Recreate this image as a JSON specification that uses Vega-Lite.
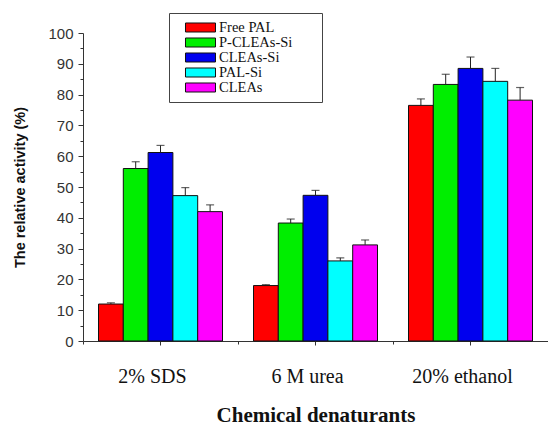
{
  "$schema": "https://vega.github.io/schema/vega-lite/v6.json",
  "width": 465,
  "height": 308,
  "autosize": {"type": "none"},
  "padding": {"left": 83, "top": 33, "right": 0, "bottom": 85},
  "background": "white",
  "config": {
    "view": {"stroke": null},
    "axis": {"grid": false, "domainColor": "#333", "tickColor": "#333", "domainWidth": 1, "tickWidth": 1}
  },
  "data": {
    "values": [
      {"cat": "2% SDS", "series": "Free PAL", "v": 12, "hi": 12.4},
      {"cat": "2% SDS", "series": "P-CLEAs-Si", "v": 56, "hi": 58.2},
      {"cat": "2% SDS", "series": "CLEAs-Si", "v": 61.2, "hi": 63.5},
      {"cat": "2% SDS", "series": "PAL-Si", "v": 47.2, "hi": 49.8},
      {"cat": "2% SDS", "series": "CLEAs", "v": 42, "hi": 44.2},
      {"cat": "6 M urea", "series": "Free PAL", "v": 18, "hi": 18.3},
      {"cat": "6 M urea", "series": "P-CLEAs-Si", "v": 38.3, "hi": 39.6},
      {"cat": "6 M urea", "series": "CLEAs-Si", "v": 47.3, "hi": 48.9},
      {"cat": "6 M urea", "series": "PAL-Si", "v": 26, "hi": 27},
      {"cat": "6 M urea", "series": "CLEAs", "v": 31.2, "hi": 32.8},
      {"cat": "20% ethanol", "series": "Free PAL", "v": 76.5, "hi": 78.6},
      {"cat": "20% ethanol", "series": "P-CLEAs-Si", "v": 83.3, "hi": 86.6},
      {"cat": "20% ethanol", "series": "CLEAs-Si", "v": 88.5, "hi": 92.2},
      {"cat": "20% ethanol", "series": "PAL-Si", "v": 84.3, "hi": 88.5},
      {"cat": "20% ethanol", "series": "CLEAs", "v": 78.2, "hi": 82.3}
    ]
  },
  "layer": [
    {
      "mark": {"type": "bar", "stroke": "#111", "strokeWidth": 1},
      "encoding": {
        "x": {
          "field": "cat", "type": "nominal",
          "sort": ["2% SDS", "6 M urea", "20% ethanol"],
          "scale": {"paddingInner": 0.2, "paddingOuter": 0.1},
          "axis": {
            "orient": "bottom", "title": "Chemical denaturants", "labelAngle": 0,
            "tickSize": 4, "labelPadding": 21, "labelOffset": -8,
            "labelFont": "Liberation Serif", "labelFontSize": 20, "labelColor": "#111",
            "titleFont": "Liberation Serif", "titleFontSize": 21, "titleFontWeight": "bold", "titleColor": "#111",
            "titlePadding": 18
          }
        },
        "xOffset": {
          "field": "series", "type": "nominal",
          "sort": ["Free PAL", "P-CLEAs-Si", "CLEAs-Si", "PAL-Si", "CLEAs"],
          "scale": {"paddingInner": 0, "paddingOuter": 0}
        },
        "y": {
          "field": "v", "type": "quantitative",
          "scale": {"domain": [0, 100], "nice": false},
          "axis": {
            "orient": "left", "title": "The relative activity (%)",
            "values": [0, 10, 20, 30, 40, 50, 60, 70, 80, 90, 100],
            "tickSize": 5, "labelPadding": 5,
            "labelFont": "Liberation Sans", "labelFontSize": 15, "labelColor": "#333",
            "titleFont": "Liberation Sans", "titleFontSize": 14.5, "titleFontWeight": "bold", "titleColor": "#111",
            "titlePadding": 20
          }
        },
        "color": {
          "field": "series", "type": "nominal",
          "sort": ["Free PAL", "P-CLEAs-Si", "CLEAs-Si", "PAL-Si", "CLEAs"],
          "scale": {
            "domain": ["Free PAL", "P-CLEAs-Si", "CLEAs-Si", "PAL-Si", "CLEAs"],
            "range": ["#ff0000", "#00ee00", "#0000ee", "#00ffff", "#ff00ff"]
          },
          "legend": {
            "title": " ", "titleOrient": "right", "titlePadding": 23,
            "orient": "none", "legendX": 86, "legendY": -20,
            "strokeColor": "#444", "fillColor": "white", "padding": 7,
            "symbolOffset": 17, "symbolType": "M-2.143,-0.643H2.143V0.643H-2.143Z", "symbolSize": 196,
            "symbolStrokeColor": "#111", "symbolStrokeWidth": 1,
            "rowPadding": -1, "labelOffset": 11,
            "labelFont": "Liberation Serif", "labelFontSize": 14.5, "labelColor": "#111"
          }
        }
      }
    },
    {
      "mark": {"type": "rule", "color": "#222", "strokeWidth": 1},
      "encoding": {
        "x": {"field": "cat", "type": "nominal", "sort": ["2% SDS", "6 M urea", "20% ethanol"], "axis": null},
        "xOffset": {"field": "series", "type": "nominal", "sort": ["Free PAL", "P-CLEAs-Si", "CLEAs-Si", "PAL-Si", "CLEAs"]},
        "y": {
          "field": "v", "type": "quantitative",
          "axis": {
            "orient": "left", "title": null, "labels": false, "domain": false,
            "values": [5, 15, 25, 35, 45, 55, 65, 75, 85, 95], "tickSize": 3
          }
        },
        "y2": {"field": "hi"}
      }
    },
    {
      "mark": {"type": "tick", "color": "#222", "size": 8, "thickness": 1.2},
      "encoding": {
        "x": {
          "field": "cat", "type": "nominal", "sort": ["2% SDS", "6 M urea", "20% ethanol"],
          "axis": {
            "orient": "bottom", "title": null, "labels": false, "domain": false,
            "bandPosition": -0.125, "tickSize": 3
          }
        },
        "xOffset": {"field": "series", "type": "nominal", "sort": ["Free PAL", "P-CLEAs-Si", "CLEAs-Si", "PAL-Si", "CLEAs"]},
        "y": {"field": "hi", "type": "quantitative", "axis": null}
      }
    }
  ],
  "resolve": {"axis": {"x": "independent", "y": "independent"}}
}
